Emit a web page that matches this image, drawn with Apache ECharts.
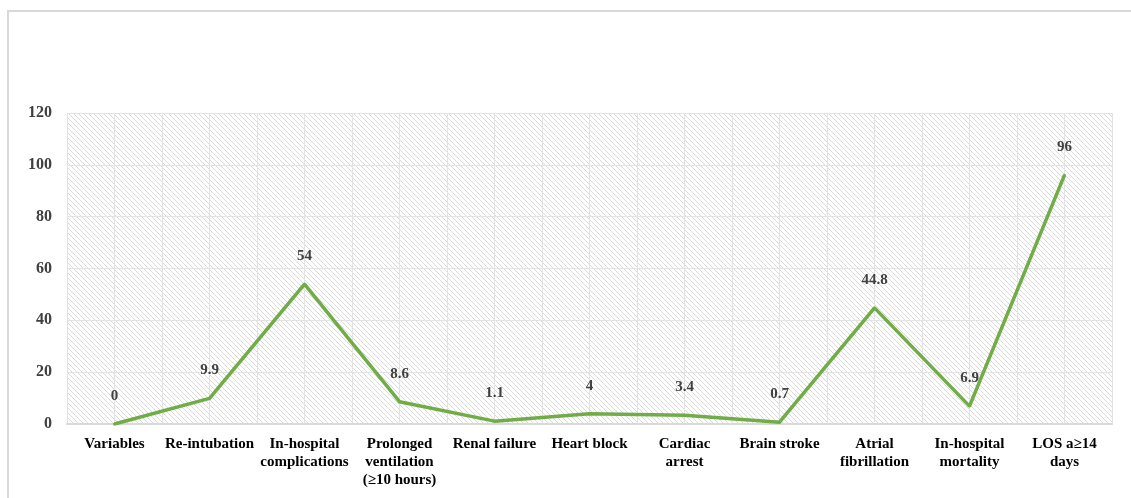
<!DOCTYPE html>
<html><head><meta charset="utf-8">
<script src="https://cdn.jsdelivr.net/npm/echarts@6/dist/echarts.min.js"></script>
<style>
html,body{margin:0;padding:0;background:#fff;}
#frame{position:absolute;left:7px;top:10px;width:1124px;height:488px;border-left:2px solid #d9d9d9;border-top:2px solid #d9d9d9;}
#chart{position:absolute;left:0;top:0;width:1131px;height:498px;}
</style></head>
<body>
<div id="frame"></div>
<div id="chart"></div>
<script>
const categories = ["Variables","Re-intubation","In-hospital\ncomplications","Prolonged\nventilation\n(≥10 hours)","Renal failure","Heart block","Cardiac\narrest","Brain stroke","Atrial\nfibrillation","In-hospital\nmortality","LOS a≥14\ndays"];
const values = [0, 9.9, 54, 8.6, 1.1, 4, 3.4, 0.7, 44.8, 6.9, 96];
const yMin = 0, yMax = 120, yStep = 20;

const pc = document.createElement('canvas');
pc.width = 5; pc.height = 5;
const g = pc.getContext('2d');
g.fillStyle = '#ffffff'; g.fillRect(0,0,5,5);
g.strokeStyle = '#dadada'; g.lineWidth = 1;
g.beginPath(); g.moveTo(-1,-1); g.lineTo(6,6); g.stroke();

const chart = echarts.init(document.getElementById('chart'), null, {renderer:'canvas'});
const font = '"Liberation Serif","Times New Roman",serif';
chart.setOption({
  animation:false,
  grid:{left:67,right:19,top:113,bottom:74,show:true,borderWidth:0,backgroundColor:{image:pc,repeat:'repeat'}},
  xAxis:[{
    type:'category', data:categories, boundaryGap:true,
    axisLine:{show:true,lineStyle:{color:'#d9d9d9',width:2}},
    axisTick:{show:false},
    splitLine:{show:false},
    axisLabel:{interval:0,margin:11,color:'#000',fontFamily:font,fontWeight:'bold',fontSize:15,lineHeight:18}
  },{
    type:'value', min:0, max:22, interval:1, show:true, position:'bottom',
    axisLine:{show:false}, axisTick:{show:false}, axisLabel:{show:false},
    splitLine:{show:true,lineStyle:{color:'#e3e3e3',width:1}}
  }],
  yAxis:{
    type:'value', min:yMin, max:yMax, interval:yStep,
    axisLine:{show:false}, axisTick:{show:false},
    axisLabel:{margin:15,color:'#404040',fontFamily:font,fontWeight:'bold',fontSize:16},
    splitLine:{show:true,lineStyle:{color:'#e3e3e3',width:1}}
  },
  series:[{
    type:'line', data:values, xAxisIndex:0,
    symbol:'circle', symbolSize:3, showSymbol:true, itemStyle:{color:'#70ad47'},
    lineStyle:{color:'#70ad47',width:3.5},
    label:{show:true,position:'top',distance:19,color:'#404040',fontFamily:font,fontWeight:'bold',fontSize:15}
  }]
});
</script>
</body></html>
